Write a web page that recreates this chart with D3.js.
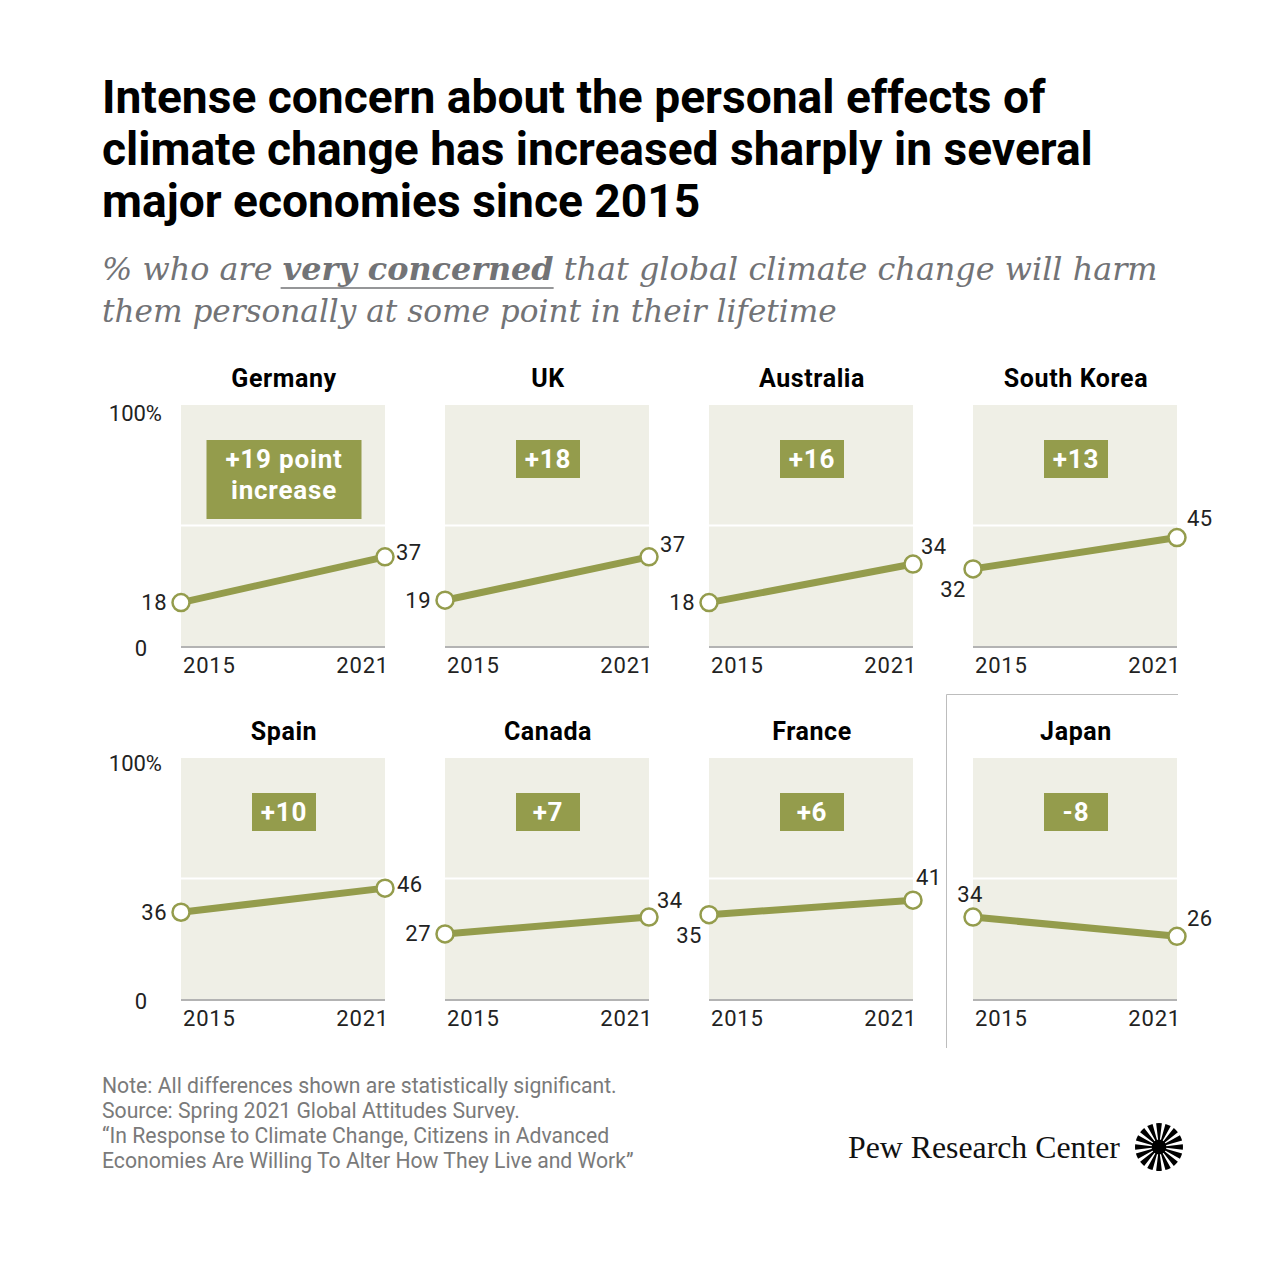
<!DOCTYPE html>
<html><head><meta charset="utf-8">
<script src="https://cdn.jsdelivr.net/npm/d3@7"></script>
<style>
html,body{margin:0;padding:0;background:#fff;}
svg{display:block;}
</style></head>
<body>
<svg id="c" width="1280" height="1280"></svg>
<script>
// ---------------- data ----------------
const countries = ["Germany","UK","Australia","South Korea","Spain","Canada","France","Japan"];
const years = [2015, 2021];
const values2015 = [18,19,18,32,36,27,35,34];
const values2021 = [37,37,34,45,46,34,41,26];
const changeLabels = [["+19 point","increase"],["+18"],["+16"],["+13"],["+10"],["+7"],["+6"],["-8"]];
const yTickLabels = ["0","100%"];
const titleLines = ["Intense concern about the personal effects of",
  "climate change has increased sharply in several",
  "major economies since 2015"];
const noteLines = ["Note: All differences shown are statistically significant.",
  "Source: Spring 2021 Global Attitudes Survey.",
  "\u201cIn Response to Climate Change, Citizens in Advanced",
  "Economies Are Willing To Alter How They Live and Work\u201d"];
// label placement codes (layout only)
const startPlace = ["left","left","left","below","left","left","below","above"];
const endLift = [4,12,18,19,4,17,23,18];
const endShift = [11,11,8,10,12,8,3,10];

// ---------------- styles ----------------
const OLIVE = "#949c4c", BG = "#efefe6", SANS = "Roboto, 'Liberation Sans', sans-serif";
const svg = d3.select("#c");
svg.append("rect").attr("width",1280).attr("height",1280).attr("fill","#fff");

function fit(sel, w){
  const cur = sel.node().getComputedTextLength();
  const fs = parseFloat(sel.attr("font-size"));
  const nf = fs*w/cur; sel.attr("font-size", nf); return nf;
}

// ---------------- title ----------------
const t0 = svg.append("text").attr("x",102).attr("y",113).attr("font-family",SANS)
  .attr("font-weight",700).attr("font-size",40).attr("fill","#000").text(titleLines[0]);
const tfs = fit(t0, 944);
titleLines.slice(1).forEach((l,i)=>{
  svg.append("text").attr("x",102).attr("y",165+52*i).attr("font-family",SANS)
    .attr("font-weight",700).attr("font-size",tfs).attr("fill","#000").text(l);
});

// ---------------- subtitle ----------------
const SERIF = "'DejaVu Serif', Georgia, serif";
const SUBC = "#727376";
const s1 = svg.append("text").attr("x",102).attr("y",280).attr("font-family",SERIF)
  .attr("font-style","italic").attr("font-size",30).attr("fill",SUBC);
s1.append("tspan").text("% who are ");
s1.append("tspan").attr("font-weight",700).text("very concerned");
s1.append("tspan").text(" that global climate change will harm");
fit(s1, 1056);
const s2 = svg.append("text").attr("x",102).attr("y",322).attr("font-family",SERIF)
  .attr("font-style","italic").attr("font-size",30).attr("fill",SUBC)
  .text("them personally at some point in their lifetime");
fit(s2, 735);
{
  const n = s1.node();
  const pre = "% who are ".length, len = "very concerned".length;
  const x0 = n.getStartPositionOfChar(pre).x;
  const x1 = n.getEndPositionOfChar(pre+len-1).x;
  svg.append("line").attr("x1",x0-2).attr("x2",x1).attr("y1",288).attr("y2",288)
    .attr("stroke",SUBC).attr("stroke-width",1.5);
}

// ---------------- panels ----------------
const PW = 204, PH = 241;
const colX = d3.scaleOrdinal().domain([0,1,2,3]).range([181,445,709,973]);
const rowY = d3.scaleOrdinal().domain([0,1]).range([405,758]);
const x = d3.scaleLinear().domain(years).range([0,PW]);
const y = d3.scaleLinear().domain([0,100]).range([PH,0]);

// Japan separator
svg.append("path").attr("d","M946.5,1048V694.5H1178").attr("fill","none")
  .attr("stroke","#bdbdbd").attr("stroke-width",1);

const NUMFS = 22;
countries.forEach((c,i)=>{
  const col = i%4, row = Math.floor(i/4);
  const g = svg.append("g").attr("transform",`translate(${colX(col)},${rowY(row)})`);
  g.append("rect").attr("width",PW).attr("height",PH).attr("fill",BG);
  g.append("line").attr("x1",0).attr("x2",PW).attr("y1",y(50)).attr("y2",y(50))
    .attr("stroke","#fff").attr("stroke-width",2);
  g.append("line").attr("x1",0).attr("x2",PW).attr("y1",y(0)+1).attr("y2",y(0)+1)
    .attr("stroke","#b3b3b3").attr("stroke-width",2);
  // country title
  g.append("text").attr("x",PW/2+1).attr("y",-18).attr("text-anchor","middle")
    .attr("font-family",SANS).attr("font-weight",700).attr("font-size",25)
    .attr("letter-spacing",0.6).attr("fill","#000").text(c);
  // year labels
  g.append("text").attr("x",2).attr("y",PH+27).attr("font-family",SANS)
    .attr("font-size",NUMFS).attr("letter-spacing",0.8).attr("fill","#222").text(years[0]);
  g.append("text").attr("x",PW+4).attr("y",PH+27).attr("text-anchor","end").attr("font-family",SANS)
    .attr("font-size",NUMFS).attr("letter-spacing",0.8).attr("fill","#222").text(years[1]);
  // y labels first column
  if(col===0){
    g.append("text").attr("x",-19).attr("y",y(100)+16-row*3).attr("text-anchor","end")
      .attr("font-family",SANS).attr("font-size",NUMFS).attr("fill","#222").text(yTickLabels[1]);
    g.append("text").attr("x",-34).attr("y",y(0)+10).attr("text-anchor","end")
      .attr("font-family",SANS).attr("font-size",NUMFS).attr("fill","#222").text(yTickLabels[0]);
  }
  // change box
  const lines = changeLabels[i];
  const bw = lines.length>1 ? 155 : 64, bh = lines.length>1 ? 79 : 38;
  g.append("rect").attr("x",PW/2+1-bw/2).attr("y",35).attr("width",bw).attr("height",bh)
    .attr("fill",OLIVE);
  const bt = g.append("text").attr("text-anchor","middle").attr("font-family",SANS)
    .attr("font-weight",700).attr("font-size",26).attr("letter-spacing",0.8).attr("fill","#fff");
  lines.forEach((l,k)=>bt.append("tspan").attr("x",PW/2+1).attr("y",y(100)+35+28+31*k).text(l));
  // line + points
  const pts = [[years[0],values2015[i]],[years[1],values2021[i]]];
  g.append("path").attr("d", d3.line().x(d=>x(d[0])).y(d=>y(d[1]))(pts))
    .attr("stroke",OLIVE).attr("stroke-width",7).attr("fill","none");
  g.selectAll("circle").data(pts).join("circle").attr("cx",d=>x(d[0])).attr("cy",d=>y(d[1]))
    .attr("r",8.5).attr("fill","#fff").attr("stroke",OLIVE).attr("stroke-width",2.5);
  // value labels
  const sx = x(years[0]), sy = y(values2015[i]);
  const sl = g.append("text").attr("font-family",SANS).attr("font-size",NUMFS).attr("fill","#222")
    .attr("letter-spacing",0.5).attr("dominant-baseline","central").text(values2015[i]);
  if(startPlace[i]==="left") sl.attr("x",sx-14).attr("y",sy).attr("text-anchor","end");
  else if(startPlace[i]==="below") sl.attr("x",sx-20).attr("y",sy+21).attr("text-anchor","middle");
  else sl.attr("x",sx-3).attr("y",sy-23).attr("text-anchor","middle");
  const ex = x(years[1]), ey = y(values2021[i]);
  g.append("text").attr("font-family",SANS).attr("font-size",NUMFS).attr("fill","#222")
    .attr("letter-spacing",0.5).attr("dominant-baseline","central").attr("x",ex+endShift[i]).attr("y",ey-endLift[i])
    .text(values2021[i]);
});

// ---------------- notes ----------------
const n0 = svg.append("text").attr("x",102).attr("y",1093).attr("font-family",SANS)
  .attr("font-size",18).attr("fill","#7a7a7a").text(noteLines[0]);
const nfs = fit(n0, 515);
noteLines.slice(1).forEach((l,i)=>{
  svg.append("text").attr("x",102).attr("y",1118+25*i).attr("font-family",SANS)
    .attr("font-size",nfs).attr("fill","#7a7a7a").text(l);
});

// ---------------- logo ----------------
const lg = svg.append("text").attr("x",848).attr("y",1158).attr("font-family","'Liberation Serif', serif")
  .attr("font-size",30).attr("fill","#111").text("Pew Research Center");
fit(lg, 272);
const sun = svg.append("g").attr("transform","translate(1159,1147)");
const nr = 16;
const arc = d3.arc().innerRadius(5).outerRadius(24);
d3.range(nr).forEach(k=>{
  const a = k*2*Math.PI/nr;
  sun.append("path").attr("d", arc({startAngle:a-0.12, endAngle:a+0.12})).attr("fill","#000");
});
sun.append("circle").attr("r",7.5).attr("fill","#000");
</script>
</body></html>
